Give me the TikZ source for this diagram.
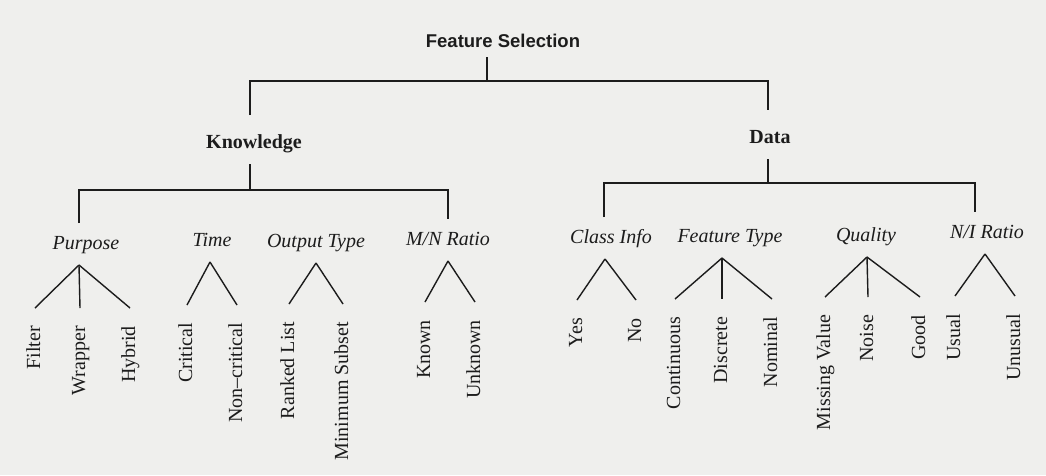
\documentclass[tikz,border=0pt]{standalone}
\usepackage{fontspec}
\setmainfont{Liberation Serif}
\newfontfamily\headfont{Liberation Sans}
\usepackage{tikz}

\definecolor{paper}{RGB}{239,239,237}
\definecolor{ink}{RGB}{28,28,28}

\begin{document}
\begin{tikzpicture}[
        x=1pt, y=-1pt, color=ink,
        root/.style={font=\headfont\bfseries\fontsize{18.5}{22}\selectfont, anchor=base, inner sep=0pt, text depth=0pt, outer ysep=10pt},
        group/.style={font=\bfseries\fontsize{20}{24}\selectfont, anchor=base, inner sep=0pt, text height=17pt, text depth=0pt, outer ysep=16pt},
        facet/.style={font=\itshape\fontsize{20}{24}\selectfont, anchor=base, inner sep=0pt, text height=10pt, text depth=0pt, outer ysep=16pt},
        leaf/.style={font=\fontsize{20}{24}\selectfont, rotate=90, anchor=east, inner sep=0pt, text height=14pt, text depth=4pt, outer xsep=18pt},
        line/.style={draw=ink, line width=1.4pt}
    ]
        \fill[paper] (0,0) rectangle (1046,475);
        \useasboundingbox (0,0) rectangle (1046,475);

        % top of the tree
        \node[root] (root) at (503,47) {Feature Selection};
        \node[group] (knowledge) at (254,148) {Knowledge};
        \node[group] (data) at (770,143) {Data};
        \coordinate (split) at (487,81);

        % second level
        \node[facet] (purpose) at (86,249) {Purpose};
        \node[facet] (time) at (212,246) {Time};
        \node[facet] (output) at (316,247) {Output Type};
        \node[facet] (mnratio) at (448,245) {M/N Ratio};
        \node[facet] (classinfo) at (611,243) {Class Info};
        \node[facet] (feattype) at (730,242) {Feature Type};
        \node[facet] (quality) at (866,241) {Quality};
        \node[facet] (niratio) at (987,238) {N/I Ratio};

        % leaves, written upwards
        \node[leaf] (filter) at (35,308) {Filter};
        \node[leaf] (wrapper) at (80,308) {Wrapper};
        \node[leaf] (hybrid) at (130,308) {Hybrid};
        \node[leaf] (critical) at (187,305) {Critical};
        \node[leaf] (noncritical) at (237,305) {Non--critical};
        \node[leaf] (ranked) at (289,304) {Ranked List};
        \node[leaf] (minsubset) at (343,304) {Minimum Subset};
        \node[leaf] (known) at (425,302) {Known};
        \node[leaf] (unknown) at (475,302) {Unknown};
        \node[leaf] (yes) at (577,300) {Yes};
        \node[leaf] (no) at (636,300) {No};
        \node[leaf] (continuous) at (675,299) {Continuous};
        \node[leaf] (discrete) at (722,299) {Discrete};
        \node[leaf] (nominal) at (772,299) {Nominal};
        \node[leaf] (missing) at (825,297) {Missing Value};
        \node[leaf] (noise) at (868,297) {Noise};
        \node[leaf] (good) at (920,297) {Good};
        \node[leaf] (usual) at (955,296) {Usual};
        \node[leaf] (unusual) at (1015,296) {Unusual};

        % elbow connectors (drops sit a little left of some labels)
        \draw[line] (root.south -| split) -- (split);
        \draw[line] ([xshift=-4pt]knowledge.north) |- (split) -| ([xshift=-2pt]data.north);
        \draw[line] ([xshift=-4pt]knowledge.south) -- ++(0,26) coordinate (kjoin);
        \draw[line] ([xshift=-7pt]purpose.north) |- (kjoin) -| (mnratio.north);
        \draw[line] ([xshift=-2pt]data.south) -- ++(0,24) coordinate (djoin);
        \draw[line] ([xshift=-7pt]classinfo.north) |- (djoin) -| ([xshift=-12pt]niratio.north);

        % branches down to the leaves
        \draw[line] ([xshift=-7pt]purpose.south) -- (filter.east);
        \draw[line] ([xshift=-7pt]purpose.south) -- (wrapper.east);
        \draw[line] ([xshift=-7pt]purpose.south) -- (hybrid.east);
        \draw[line] ([xshift=-2pt]time.south) -- (critical.east);
        \draw[line] ([xshift=-2pt]time.south) -- (noncritical.east);
        \draw[line] (output.south) -- (ranked.east);
        \draw[line] (output.south) -- (minsubset.east);
        \draw[line] (mnratio.south) -- (known.east);
        \draw[line] (mnratio.south) -- (unknown.east);
        \draw[line] ([xshift=-6pt]classinfo.south) -- (yes.east);
        \draw[line] ([xshift=-6pt]classinfo.south) -- (no.east);
        \draw[line] ([xshift=-8pt]feattype.south) -- (continuous.east);
        \draw[line] ([xshift=-8pt]feattype.south) -- (discrete.east);
        \draw[line] ([xshift=-8pt]feattype.south) -- (nominal.east);
        \draw[line] ([xshift=1pt]quality.south) -- (missing.east);
        \draw[line] ([xshift=1pt]quality.south) -- (noise.east);
        \draw[line] ([xshift=1pt]quality.south) -- (good.east);
        \draw[line] ([xshift=-2pt]niratio.south) -- (usual.east);
        \draw[line] ([xshift=-2pt]niratio.south) -- (unusual.east);
\end{tikzpicture}
\end{document}
